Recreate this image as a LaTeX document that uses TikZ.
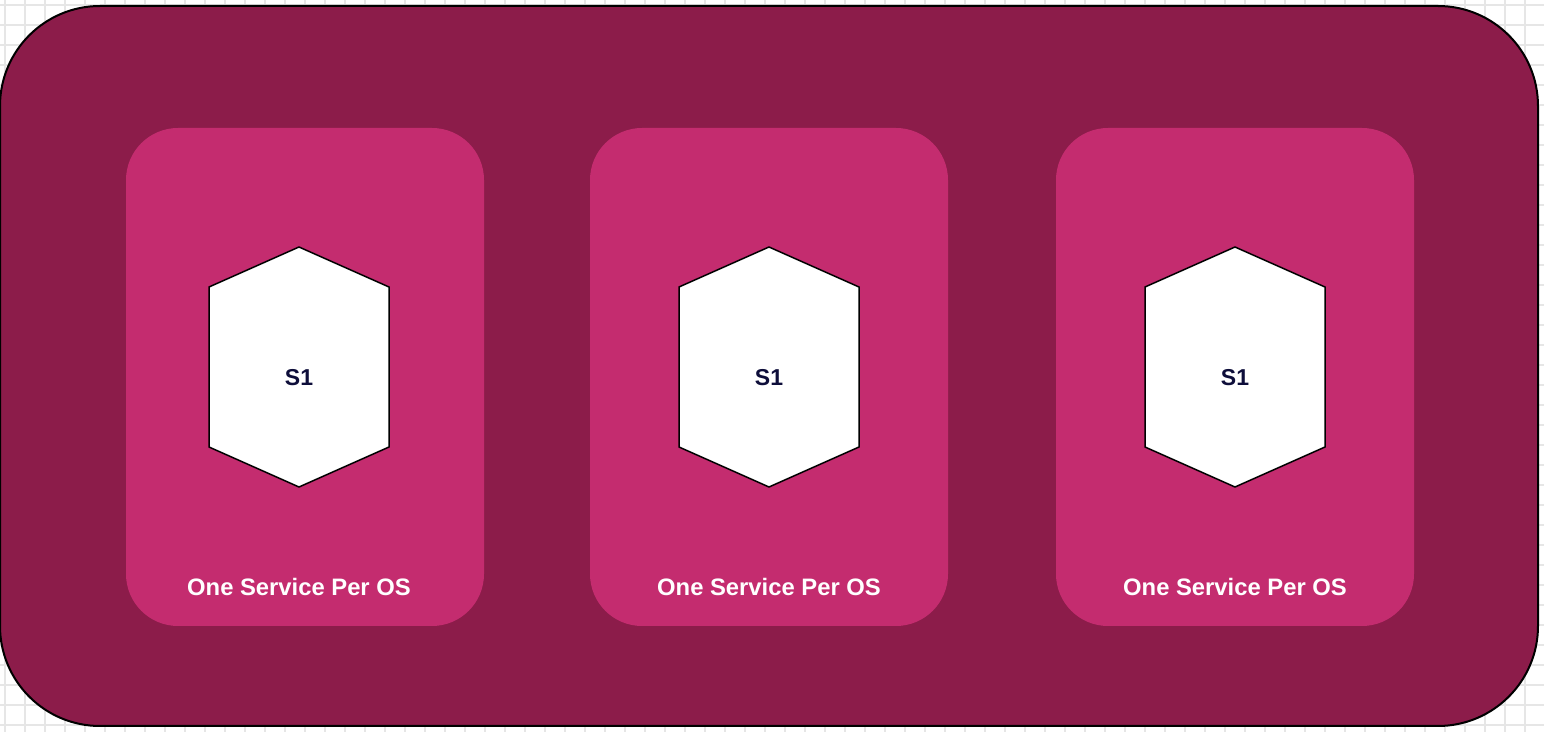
\documentclass[tikz,border=0pt]{standalone}
\usepackage{fontspec}
\setmainfont{Liberation Sans}
\definecolor{outerc}{HTML}{8C1C4A}
\definecolor{innerc}{HTML}{C42C6F}
\definecolor{gridc}{HTML}{E6E6E6}
\definecolor{navy}{HTML}{0E0E3A}
\begin{document}
\begin{tikzpicture}[x=0.5pt,y=-0.5pt,
  outerbox/.style={draw=black,line width=1pt,fill=outerc,rounded corners=50pt},
  innerbox/.style={fill=innerc,rounded corners=26pt},
  hexa/.style={draw=black,line width=0.75pt,fill=white},
  gridline/.style={gridc,line width=0.6pt},
  caplabel/.style={text=white,font=\bfseries\fontsize{11.9}{14}\selectfont},
  slabel/.style={text=navy,font=\bfseries\fontsize{11.5}{14}\selectfont}]
\useasboundingbox (0,0) rectangle (1544,732);
\fill[white] (0,0) rectangle (1544,732);
\foreach \gx in {5,25,...,1544}{\draw[gridline] (\gx,0) -- (\gx,732);}
\foreach \gy in {5,25,...,732}{\draw[gridline] (0,\gy) -- (1544,\gy);}
\draw[outerbox] (0,6) rectangle (1538,726);
\foreach \i/\cx/\bx in {1/299/305,2/769/769,3/1235/1235}{
  \fill[innerbox] (\bx-179,128) rectangle (\bx+179,626);
  \coordinate (h\i t) at (\cx,247);
  \coordinate (h\i tr) at (\cx+90,287);
  \coordinate (h\i br) at (\cx+90,447);
  \coordinate (h\i b) at (\cx,487);
  \coordinate (h\i bl) at (\cx-90,447);
  \coordinate (h\i tl) at (\cx-90,287);
  \draw[hexa] (h\i t) -- (h\i tr) -- (h\i br) -- (h\i b) -- (h\i bl) -- (h\i tl) -- cycle;
  \node[slabel] (s\i) at (\cx,378) {S1};
  \node[caplabel] (c\i) at (\cx,587) {One Service Per OS};
}
\end{tikzpicture}
\end{document}
